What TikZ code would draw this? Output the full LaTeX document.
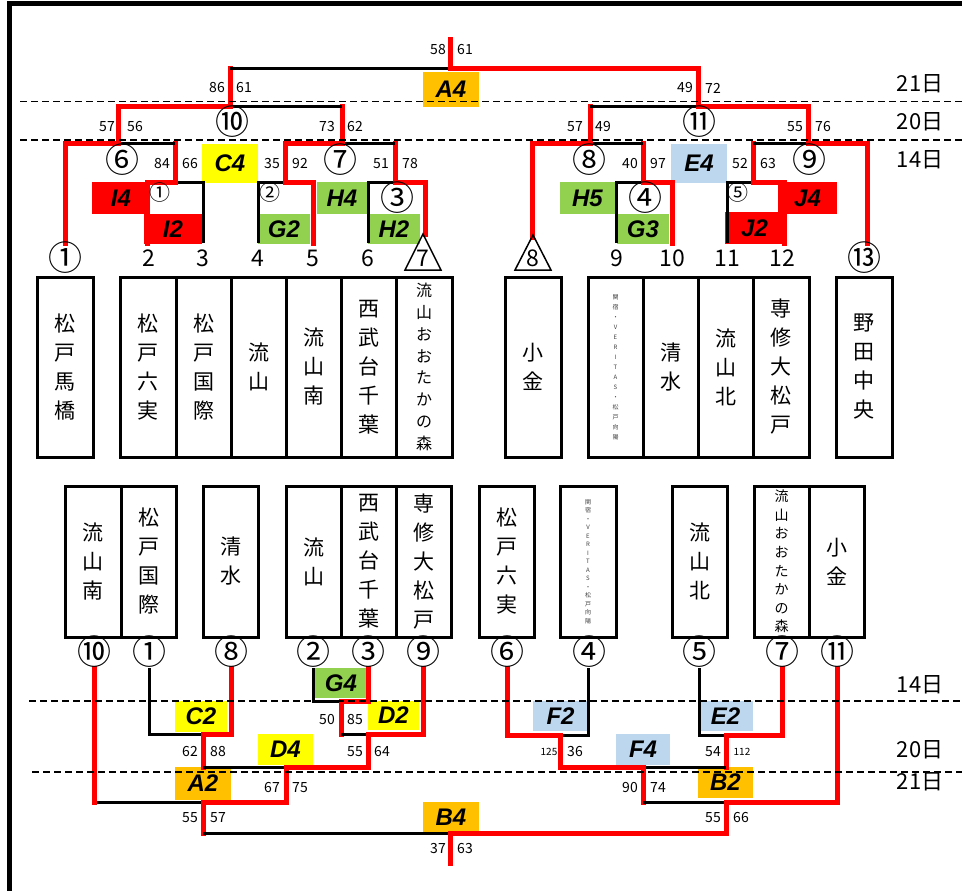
\documentclass[tikz,border=0pt]{standalone}
\usepackage{fontspec}
\newfontfamily\jp{Noto Sans CJK JP}
\newfontfamily\lab{Liberation Sans}
\definecolor{cOr}{HTML}{FFC000}
\definecolor{cYe}{HTML}{FFFF00}
\definecolor{cGr}{HTML}{92D050}
\definecolor{cBl}{HTML}{BDD7EE}
\definecolor{cRd}{HTML}{FF0000}
\begin{document}
\begin{tikzpicture}[x=1pt,y=-1pt,
  blk/.style={line width=3pt, black},
  win/.style={line width=5pt, cRd, line cap=rect},
  datel/.style={line width=1.5pt, dash pattern=on 7pt off 4pt},
  team/.style={draw, line width=3pt, align=center, inner sep=0pt, font=\jp\fontsize{21}{29}\selectfont},
  teams/.style={font=\jp\fontsize{16}{21.8}\selectfont},
  teamt/.style={font=\jp\fontsize{6}{10}\selectfont, text=black!75},
  tag/.style={inner sep=0pt, font=\lab\bfseries\itshape\fontsize{24}{24}\selectfont},
  sc/.style={inner sep=0pt, font=\jp\fontsize{14}{14}\selectfont},
  scs/.style={inner sep=0pt, font=\jp\fontsize{10}{10}\selectfont},
  circ/.style={inner sep=0pt, font=\jp\fontsize{34}{34}\selectfont},
  circs/.style={inner sep=0pt, font=\jp\fontsize{21}{21}\selectfont},
  num/.style={inner sep=0pt, font=\jp\fontsize{23}{23}\selectfont},
  day/.style={inner sep=0pt, font=\jp\fontsize{22}{22}\selectfont},
  tri/.style={draw, line width=1.5pt}]
\useasboundingbox (0,0) rectangle (962,891);
\fill[white] (0,0) rectangle (962,891);

% ---------- team boxes (top) ----------
\node[team, minimum width=56, minimum height=180] (tt1) at (65,367) {松\\戸\\馬\\橋};
\node[team, minimum width=56, minimum height=180] (tt2) at (148,367) {松\\戸\\六\\実};
\node[team, minimum width=55, minimum height=180] (tt3) at (203.5,367) {松\\戸\\国\\際};
\node[team, minimum width=55, minimum height=180] (tt4) at (258.5,367) {流\\山};
\node[team, minimum width=55, minimum height=180] (tt5) at (313.5,367) {流\\山\\南};
\node[team, minimum width=55, minimum height=180] (tt6) at (368.5,367) {西\\武\\台\\千\\葉};
\node[team, teams, minimum width=56, minimum height=180] (tt7) at (424,367) {流\\山\\お\\お\\た\\か\\の\\森};
\node[team, minimum width=56, minimum height=180] (tt8) at (533,367) {小\\金};
\node[team, teamt, minimum width=55, minimum height=180] (tt9) at (615.5,367) {関\\宿\\・\\V\\E\\R\\I\\T\\A\\S\\・\\松\\戸\\向\\陽};
\node[team, minimum width=55, minimum height=180] (tt10) at (670.5,367) {清\\水};
\node[team, minimum width=55, minimum height=180] (tt11) at (725.5,367) {流\\山\\北};
\node[team, minimum width=56, minimum height=180] (tt12) at (781,367) {専\\修\\大\\松\\戸};
\node[team, minimum width=56, minimum height=180] (tt13) at (864,367) {野\\田\\中\\央};

% ---------- team boxes (bottom) ----------
\node[team, minimum width=56, minimum height=151] (bt1) at (93,561.5) {流\\山\\南};
\node[team, minimum width=55, minimum height=151] (bt2) at (148.5,561.5) {松\\戸\\国\\際};
\node[team, minimum width=55, minimum height=151] (bt3) at (230.5,561.5) {清\\水};
\node[team, minimum width=55, minimum height=151] (bt4) at (313.5,561.5) {流\\山};
\node[team, minimum width=55, minimum height=151] (bt5) at (368.5,561.5) {西\\武\\台\\千\\葉};
\node[team, minimum width=55, minimum height=151] (bt6) at (423.5,561.5) {専\\修\\大\\松\\戸};
\node[team, minimum width=55, minimum height=151] (bt7) at (506.5,561.5) {松\\戸\\六\\実};
\node[team, font=\jp\fontsize{6}{8.5}\selectfont, text=black!75, minimum width=56, minimum height=151] (bt8) at (588,561.5) {関\\宿\\・\\V\\E\\R\\I\\T\\A\\S\\・\\松\\戸\\向\\陽};
\node[team, minimum width=55, minimum height=151] (bt9) at (699.5,561.5) {流\\山\\北};
\node[team, font=\jp\fontsize{14}{18.6}\selectfont, minimum width=55, minimum height=151] (bt10) at (781.5,561.5) {流\\山\\お\\お\\た\\か\\の\\森};
\node[team, minimum width=55, minimum height=151] (bt11) at (836.5,561.5) {小\\金};

% ---------- match tags (top) ----------
\node[tag, fill=cOr, minimum width=56, minimum height=35] (gA4) at (451,89.5) {A4};
\node[tag, fill=cYe, minimum width=56, minimum height=39] (gC4) at (230,163.5) {C4};
\node[tag, fill=cRd, minimum width=58, minimum height=32] (gI4) at (121,198) {I4};
\node[tag, fill=cRd, minimum width=58, minimum height=30] (gI2) at (173,229) {I2};
\node[tag, fill=cGr, minimum width=52, minimum height=30] (gG2) at (284,229) {G2};
\node[tag, fill=cGr, minimum width=50, minimum height=32] (gH4) at (342,198) {H4};
\node[tag, fill=cGr, minimum width=52, minimum height=30] (gH2) at (394,229) {H2};
\node[tag, fill=cGr, minimum width=55, minimum height=32] (gH5) at (587.5,198) {H5};
\node[tag, fill=cGr, minimum width=52, minimum height=30] (gG3) at (643,229) {G3};
\node[tag, fill=cBl, minimum width=56, minimum height=39] (gE4) at (699,163.5) {E4};
\node[tag, fill=cRd, minimum width=59, minimum height=32] (gJ4) at (807.5,198) {J4};
\node[tag, fill=cRd, minimum width=59, minimum height=32] (gJ2) at (754.5,228) {J2};

% ---------- match tags (bottom) ----------
\node[tag, fill=cGr, minimum width=52, minimum height=30] (gG4) at (341,683) {G4};
\node[tag, fill=cYe, minimum width=52, minimum height=31] (gC2) at (201,716.5) {C2};
\node[tag, fill=cYe, minimum width=51, minimum height=29] (gD2) at (393.5,715.5) {D2};
\node[tag, fill=cYe, minimum width=55, minimum height=31] (gD4) at (285.5,749.5) {D4};
\node[tag, fill=cOr, minimum width=56, minimum height=33] (gA2) at (203,783.5) {A2};
\node[tag, fill=cOr, minimum width=56, minimum height=30] (gB4) at (451,817) {B4};
\node[tag, fill=cBl, minimum width=55, minimum height=30] (gF2) at (560.5,716) {F2};
\node[tag, fill=cBl, minimum width=54, minimum height=31] (gF4) at (643,749.5) {F4};
\node[tag, fill=cBl, minimum width=55, minimum height=30] (gE2) at (725.5,716) {E2};
\node[tag, fill=cOr, minimum width=55, minimum height=31] (gB2) at (725.5,782.5) {B2};

% ---------- coordinates (top bracket) ----------
\coordinate (a1) at (65,243);  \coordinate (a2) at (147,243); \coordinate (a3) at (203,243);
\coordinate (a4) at (258,243); \coordinate (a5) at (313,243); \coordinate (a6) at (368,243);
\coordinate (a7) at (425,234); \coordinate (a8) at (532,237); \coordinate (a9) at (616,243);
\coordinate (a10) at (672,243); \coordinate (a11) at (727,243); \coordinate (a12) at (784,243);
\coordinate (a13) at (867,243);
\coordinate (m1) at (175,182); \coordinate (m2) at (285,182); \coordinate (m3) at (395,182);
\coordinate (m4) at (643,182); \coordinate (m5) at (753,182);
\coordinate (m6) at (118,143); \coordinate (m7) at (342,143); \coordinate (m8) at (590,143);
\coordinate (m9) at (808,143);
\coordinate (m10) at (230,107); \coordinate (m11) at (698,107);
\coordinate (mA4) at (450,69); \coordinate (topend) at (450,40);

% ---------- top bracket lines ----------
\draw[blk] (a3) |- (m1);
\draw[win] (a2) |- (m1) -- (m1 |- m6);
\draw[blk] (m1 |- m6) -- (m6);
\draw[win] (a1) |- (m6) -- (m6 |- m10);
\draw[blk] (a4) |- (m2);
\draw[win] (a5) |- (m2) -- (m2 |- m7);
\draw[blk] (a6) |- (m3);
\draw[win] (a7) |- (m3) -- (m3 |- m7);
\draw[blk] (m3 |- m7) -- (m7);
\draw[win] (m2 |- m7) -- (m7) -- (m7 |- m10);
\draw[blk] (m7 |- m10) -- (m10);
\draw[win] (m6 |- m10) -- (m10) -- (m10 |- mA4);
\draw[blk] (m10 |- mA4) -- (mA4);
\draw[blk] (a9) |- (m4);
\draw[win] (a10) |- (m4) -- (m4 |- m8);
\draw[blk] (m4 |- m8) -- (m8);
\draw[win] (a8) |- (m8) -- (m8 |- m11);
\draw[blk] (a11) |- (m5);
\draw[win] (a12) |- (m5) -- (m5 |- m9);
\draw[blk] (m5 |- m9) -- (m9);
\draw[win] (a13) |- (m9) -- (m9 |- m11);
\draw[blk] (m8 |- m11) -- (m11);
\draw[win] (m9 |- m11) -- (m11) -- (m11 |- mA4);
\draw[win] (m11 |- mA4) -- (mA4) -- (topend);

% ---------- coordinates (bottom bracket) ----------
\coordinate (b10) at (94,668); \coordinate (b1) at (149,668); \coordinate (b8) at (231,668);
\coordinate (b2) at (313,668); \coordinate (b3) at (368,668); \coordinate (b9) at (423,668);
\coordinate (b6) at (507,668); \coordinate (b4) at (588,668); \coordinate (b5) at (699,668);
\coordinate (b7) at (782,668); \coordinate (b11) at (837,668);
\coordinate (nG4) at (341,701); \coordinate (nC2) at (203,734); \coordinate (nD2) at (368,734);
\coordinate (nF2) at (560,735); \coordinate (nE2) at (726,735);
\coordinate (nD4) at (286,767); \coordinate (nF4) at (643,767);
\coordinate (nA2) at (203,802); \coordinate (nB2) at (726,802);
\coordinate (nB4) at (450,833); \coordinate (botend) at (450,863);

% ---------- bottom bracket lines ----------
\draw[blk] (b2) |- (nG4);
\draw[win] (b3) |- (nG4) -- (nG4 |- nD2);
\draw[blk] (nG4 |- nD2) -- (nD2);
\draw[win] (b9) |- (nD2) -- (nD2 |- nD4);
\draw[blk] (b1) |- (nC2);
\draw[win] (b8) |- (nC2) -- (nC2 |- nD4);
\draw[blk] (nC2 |- nD4) -- (nD4);
\draw[win] (nD2 |- nD4) -- (nD4) -- (nD4 |- nA2);
\draw[blk] (b10 |- nA2) -- (nA2);
\draw[win] (b10) -- (b10 |- nA2);
\draw[win] (nD4 |- nA2) -- (nA2) -- (nA2 |- nB4);
\draw[blk] (b4) |- (nF2);
\draw[win] (b6) |- (nF2) -- (nF2 |- nF4);
\draw[blk] (b5) |- (nE2);
\draw[win] (b7) |- (nE2) -- (nE2 |- nF4);
\draw[blk] (nE2 |- nF4) -- (nF4);
\draw[win] (nF2 |- nF4) -- (nF4) -- (nF4 |- nB2);
\draw[blk] (nF4 |- nB2) -- (nB2);
\draw[win] (b11) |- (nB2) -- (nB2 |- nB4);
\draw[blk] (nA2 |- nB4) -- (nB4);
\draw[win] (nB2 |- nB4) -- (nB4) -- (botend);

% ---------- date lines ----------
\coordinate (d1l) at (20,101.5);  \coordinate (d1r) at (962,101.5);
\coordinate (d2l) at (20,140);    \coordinate (d2r) at (962,140);
\coordinate (d3l) at (29,701);    \coordinate (d3r) at (962,701);
\coordinate (d4l) at (32,772);    \coordinate (d4r) at (962,772);
\draw[datel] (d1l) -- (d1r);
\draw[datel] (d2l) -- (d2r);
\draw[datel] (d3l) -- (d3r);
\draw[datel] (d4l) -- (d4r);

% ---------- frame ----------
\coordinate (fr1) at (9.5,891); \coordinate (fr2) at (9.5,3.5); \coordinate (fr3) at (962,3.5);
\draw[line width=5pt] (fr1) -- (fr2) -- (fr3);

% ---------- days ----------
\node[day] (dy1) at (920,84) {21日};
\node[day] (dy2) at (920,122) {20日};
\node[day] (dy3) at (920,160) {14日};
\node[day] (dy4) at (920,685) {14日};
\node[day] (dy5) at (920,750) {20日};
\node[day] (dy6) at (920,782) {21日};

% ---------- top labels ----------
\node[circ] (k1) at (65,258) {①};
\node[num] (k2) at (149,258) {2};
\node[num] (k3) at (203,258) {3};
\node[num] (k4) at (258,258) {4};
\node[num] (k5) at (313,258) {5};
\node[num] (k6) at (368,258) {6};
\coordinate (tr7a) at (423,234); \coordinate (tr7b) at (441,270); \coordinate (tr7c) at (405,270);
\draw[tri] (tr7a) -- (tr7b) -- (tr7c) -- cycle;
\node[num] (k7) at (423,258) {7};
\coordinate (tr8a) at (533,235); \coordinate (tr8b) at (551,270); \coordinate (tr8c) at (515,270);
\draw[tri] (tr8a) -- (tr8b) -- (tr8c) -- cycle;
\node[num] (k8) at (533,258) {8};
\node[num] (k9) at (617,258) {9};
\node[num] (k10) at (672,258) {10};
\node[num] (k11) at (727,258) {11};
\node[num] (k12) at (782,258) {12};
\node[circ] (k13) at (864,258) {⑬};

\node[circ] (r6) at (122,160) {⑥};
\node[circ] (r10) at (232,122) {⑩};
\node[circ] (r7) at (340,160) {⑦};
\node[circs] (r1) at (160,193) {①};
\node[circs] (r2) at (270,193) {②};
\node[circ] (r3) at (397,198) {③};
\node[circ] (r8) at (589,160) {⑧};
\node[circ] (r11) at (699,122) {⑪};
\node[circ] (r9) at (809,160) {⑨};
\node[circ] (r4) at (645,198) {④};
\node[circs] (r5) at (738,193) {⑤};

% ---------- top scores ----------
\node[sc] (s1) at (438,50) {58};  \node[sc] (s2) at (465,50) {61};
\node[sc] (s3) at (217,88) {86};  \node[sc] (s4) at (244,88) {61};
\node[sc] (s5) at (107,127) {57}; \node[sc] (s6) at (135,127) {56};
\node[sc] (s7) at (327,127) {73}; \node[sc] (s8) at (355,127) {62};
\node[sc] (s9) at (162,164) {84}; \node[sc] (s10) at (190,164) {66};
\node[sc] (s11) at (272,164) {35}; \node[sc] (s12) at (300,164) {92};
\node[sc] (s13) at (381,164) {51}; \node[sc] (s14) at (410,164) {78};
\node[sc] (s15) at (685,88) {49}; \node[sc] (s16) at (713,88) {72};
\node[sc] (s17) at (575,127) {57}; \node[sc] (s18) at (603,127) {49};
\node[sc] (s19) at (795,127) {55}; \node[sc] (s20) at (823,127) {76};
\node[sc] (s21) at (630,164) {40}; \node[sc] (s22) at (658,164) {97};
\node[sc] (s23) at (740,164) {52}; \node[sc] (s24) at (768,164) {63};

% ---------- bottom labels ----------
\node[circ] (q10) at (94,652) {⑩};
\node[circ] (q1) at (149,652) {①};
\node[circ] (q8) at (231,652) {⑧};
\node[circ] (q2) at (313,652) {②};
\node[circ] (q3) at (368,652) {③};
\node[circ] (q9) at (423,652) {⑨};
\node[circ] (q6) at (507,652) {⑥};
\node[circ] (q4) at (589,652) {④};
\node[circ] (q5) at (699,652) {⑤};
\node[circ] (q7) at (782,652) {⑦};
\node[circ] (q11) at (837,652) {⑪};

% ---------- bottom scores ----------
\node[sc] (u1) at (327,720) {50};  \node[sc] (u2) at (355,720) {85};
\node[sc] (u3) at (190,752) {62};  \node[sc] (u4) at (218,752) {88};
\node[sc] (u5) at (355,752) {55};  \node[sc] (u6) at (382,752) {64};
\node[sc] (u7) at (272,788) {67};  \node[sc] (u8) at (300,788) {75};
\node[sc] (u9) at (190,818) {55};  \node[sc] (u10) at (218,818) {57};
\node[sc] (u11) at (438,849) {37}; \node[sc] (u12) at (465,849) {63};
\node[scs] (u13) at (549,752) {125}; \node[sc] (u14) at (575,752) {36};
\node[sc] (u15) at (713,752) {54};  \node[scs] (u16) at (742,752) {112};
\node[sc] (u17) at (630,788) {90};  \node[sc] (u18) at (658,788) {74};
\node[sc] (u19) at (713,818) {55};  \node[sc] (u20) at (741,818) {66};
\end{tikzpicture}
\end{document}
